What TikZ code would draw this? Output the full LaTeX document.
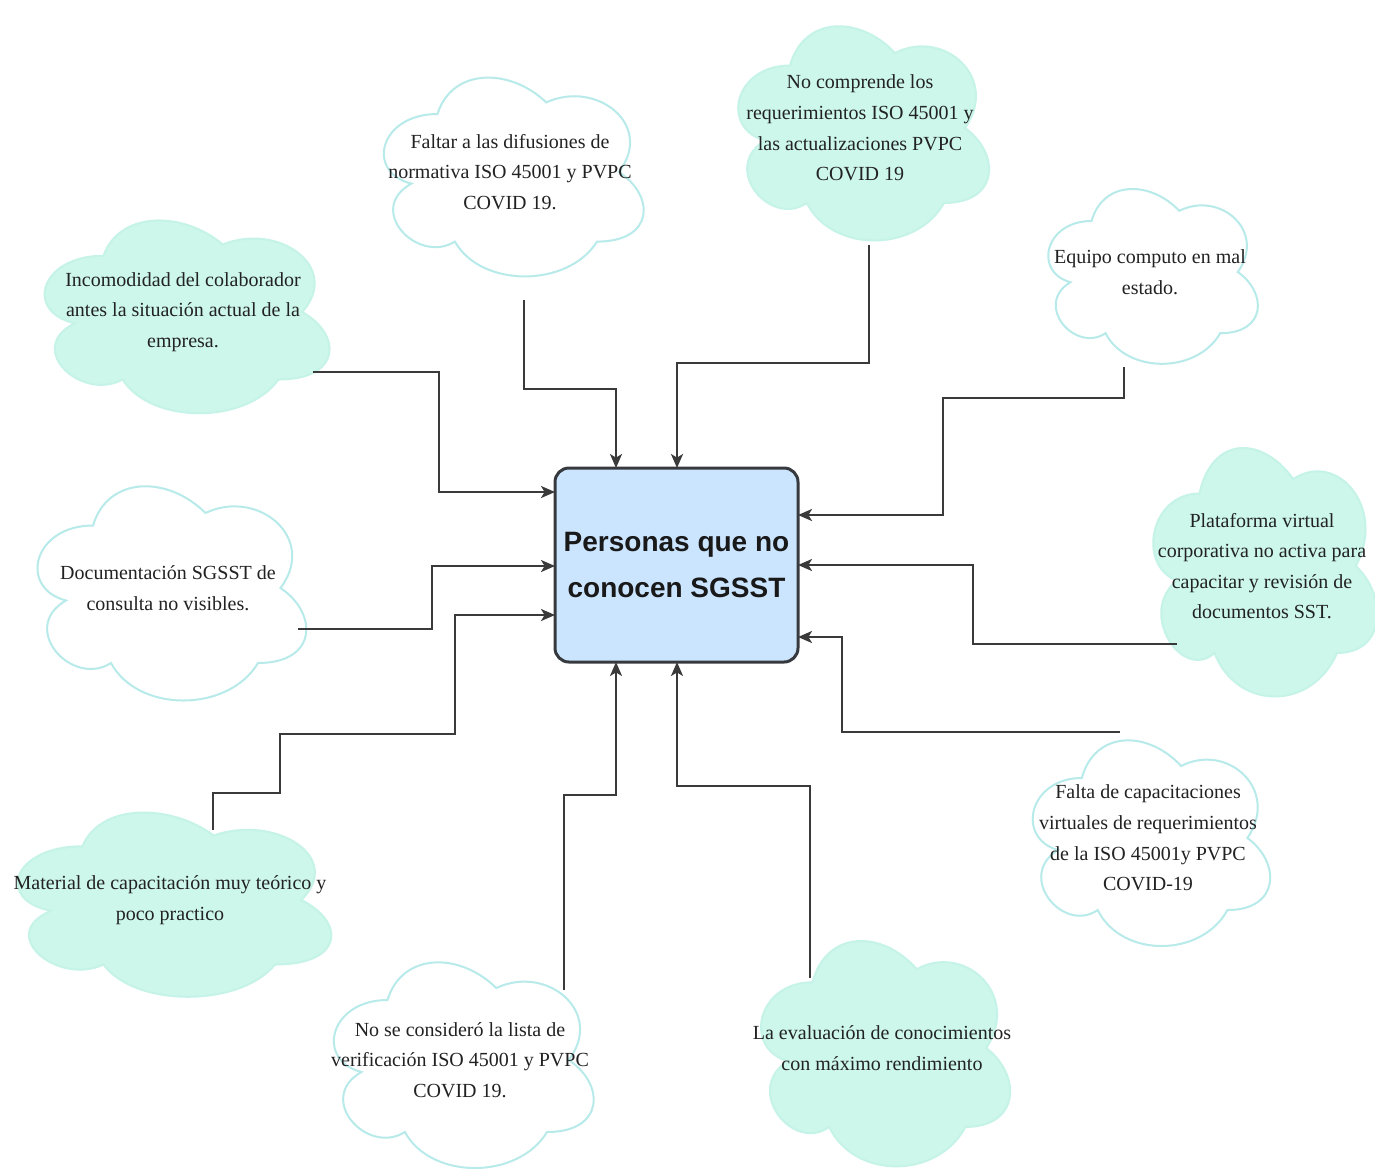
\documentclass[tikz,border=0pt]{standalone}
\usepackage{fontspec}
\setmainfont{Liberation Serif}
\newfontfamily\boxfont{Liberation Sans}
\usetikzlibrary{arrows.meta,backgrounds,calc}
\definecolor{mint}{HTML}{CCF7EA}
\definecolor{mintline}{HTML}{C6F3E8}
\definecolor{cyanline}{HTML}{B8EAEA}
\definecolor{boxfill}{HTML}{CCE5FF}
\definecolor{boxline}{HTML}{36393D}
\definecolor{linecol}{HTML}{3A3A3A}
\definecolor{txt}{HTML}{222222}
\newcommand\cloudpath[2]{%
\path[#2] let \p1=(#1.north west), \p2=(#1.south east), \n1={\x2-\x1}, \n2={\y2-\y1} in
 ({\x1+0.25*\n1},{\y1+0.25*\n2})
 .. controls ({\x1+0.05*\n1},{\y1+0.25*\n2}) and ({\x1},{\y1+0.5*\n2}) .. ({\x1+0.16*\n1},{\y1+0.55*\n2})
 .. controls ({\x1},{\y1+0.66*\n2}) and ({\x1+0.18*\n1},{\y1+0.9*\n2}) .. ({\x1+0.31*\n1},{\y1+0.8*\n2})
 .. controls ({\x1+0.4*\n1},{\y1+\n2}) and ({\x1+0.7*\n1},{\y1+\n2}) .. ({\x1+0.8*\n1},{\y1+0.8*\n2})
 .. controls ({\x1+\n1},{\y1+0.8*\n2}) and ({\x1+\n1},{\y1+0.6*\n2}) .. ({\x1+0.875*\n1},{\y1+0.5*\n2})
 .. controls ({\x1+\n1},{\y1+0.3*\n2}) and ({\x1+0.8*\n1},{\y1+0.1*\n2}) .. ({\x1+0.625*\n1},{\y1+0.2*\n2})
 .. controls ({\x1+0.5*\n1},{\y1+0.05*\n2}) and ({\x1+0.3*\n1},{\y1+0.05*\n2}) .. ({\x1+0.25*\n1},{\y1+0.25*\n2})
 -- cycle;}
\begin{document}
\begin{tikzpicture}[x=0.5pt,y=-0.5pt,
  cloudtext/.style 2 args={shape=rectangle, inner sep=0pt, outer sep=0pt,
     minimum width=#1*0.5pt, minimum height=#2*0.5pt, align=center, text=txt,
     font=\fontsize{10}{15.3}\selectfont},
  mintcloud/.style={fill=mint, draw=mintline, line width=1pt},
  whitecloud/.style={fill=white, draw=cyanline, line width=1pt},
  conn/.style={draw=linecol, line width=1pt, -{Stealth[length=7pt,width=6pt,inset=1.8pt]}},
  mainbox/.style={shape=rectangle, rounded corners=7pt, fill=boxfill, draw=boxline,
     line width=1.5pt, outer sep=0pt, minimum width=121.5pt, minimum height=97pt,
     align=center, text=black!90, font=\boxfont\bfseries\fontsize{14}{23}\selectfont}]
\useasboundingbox (0,0) rectangle (1375,1175);

\node[cloudtext={318}{225}] (inc) at (183,312) {Incomodidad del colaborador\\antes la situación actual de la\\empresa.};
\node[cloudtext={290}{232}] (fal) at (510,172) {Faltar a las difusiones de\\normativa ISO 45001 y PVPC\\COVID 19.};
\node[cloudtext={280}{250}] (noc) at (860,128) {No comprende los\\requerimientos ISO 45001 y\\las actualizaciones PVPC\\COVID 19};
\node[cloudtext={234}{204}] (equ) at (1150,272) {Equipo computo en mal\\estado.};
\node[cloudtext={250}{290}] (pla) at (1262,566) {Plataforma virtual\\corporativa no activa para\\capacitar y revisión de\\documentos SST.};
\node[cloudtext={300}{250}] (doc) at (168,588) {Documentación SGSST de\\consulta no visibles.};
\node[cloudtext={265}{240}] (fca) at (1148,838) {Falta de capacitaciones\\virtuales de requerimientos\\de la ISO 45001y PVPC\\COVID-19};
\node[cloudtext={350}{215}] (mat) at (170,900) {Material de capacitación muy teórico y\\poco practico};
\node[cloudtext={290}{240}] (nsc) at (460,1060) {No se consideró la lista de\\verificación ISO 45001 y PVPC\\COVID 19.};
\node[cloudtext={278}{263}] (eva) at (882,1048) {La evaluación de conocimientos\\con máximo rendimiento};

\node[mainbox] (main) at (676.5,565) {Personas que no\\conocen SGSST};

\begin{scope}[on background layer]
\fill[white] (0,0) rectangle (1375,1175);
\cloudpath{inc}{mintcloud}
\cloudpath{fal}{whitecloud}
\cloudpath{noc}{mintcloud}
\cloudpath{equ}{whitecloud}
\cloudpath{pla}{mintcloud}
\cloudpath{doc}{whitecloud}
\cloudpath{fca}{whitecloud}
\cloudpath{mat}{mintcloud}
\cloudpath{nsc}{whitecloud}
\cloudpath{eva}{mintcloud}
\end{scope}

\draw[conn] ([shift={(130,60)}]inc.center) -| (439,492) -- (main.west |- 0,492);
\draw[conn] ([shift={(14,128)}]fal.center) |- (616,389) -- (616,0 |- main.north);
\draw[conn] ([shift={(9,117)}]noc.center) |- (677,363) -- (677,0 |- main.north);
\draw[conn] ([shift={(-26,95)}]equ.center) |- (943,398) |- (main.east |- 0,515);
\draw[conn] ([shift={(-85,78)}]pla.center) -| (973,565) -- (main.east |- 0,565);
\draw[conn] ([shift={(-28,-106)}]fca.center) -| (842,637) -- (main.east |- 0,637);
\draw[conn] ([shift={(130,41)}]doc.center) -| (432,566) -- (main.west |- 0,566);
\draw[conn] ([shift={(43,-70)}]mat.center) |- (280,793) |- (455,734) |- (main.west |- 0,615);
\draw[conn] ([shift={(104,-70)}]nsc.center) |- (616,795) -- (616,0 |- main.south);
\draw[conn] ([shift={(-72,-70)}]eva.center) |- (677,786) -- (677,0 |- main.south);
\end{tikzpicture}
\end{document}
